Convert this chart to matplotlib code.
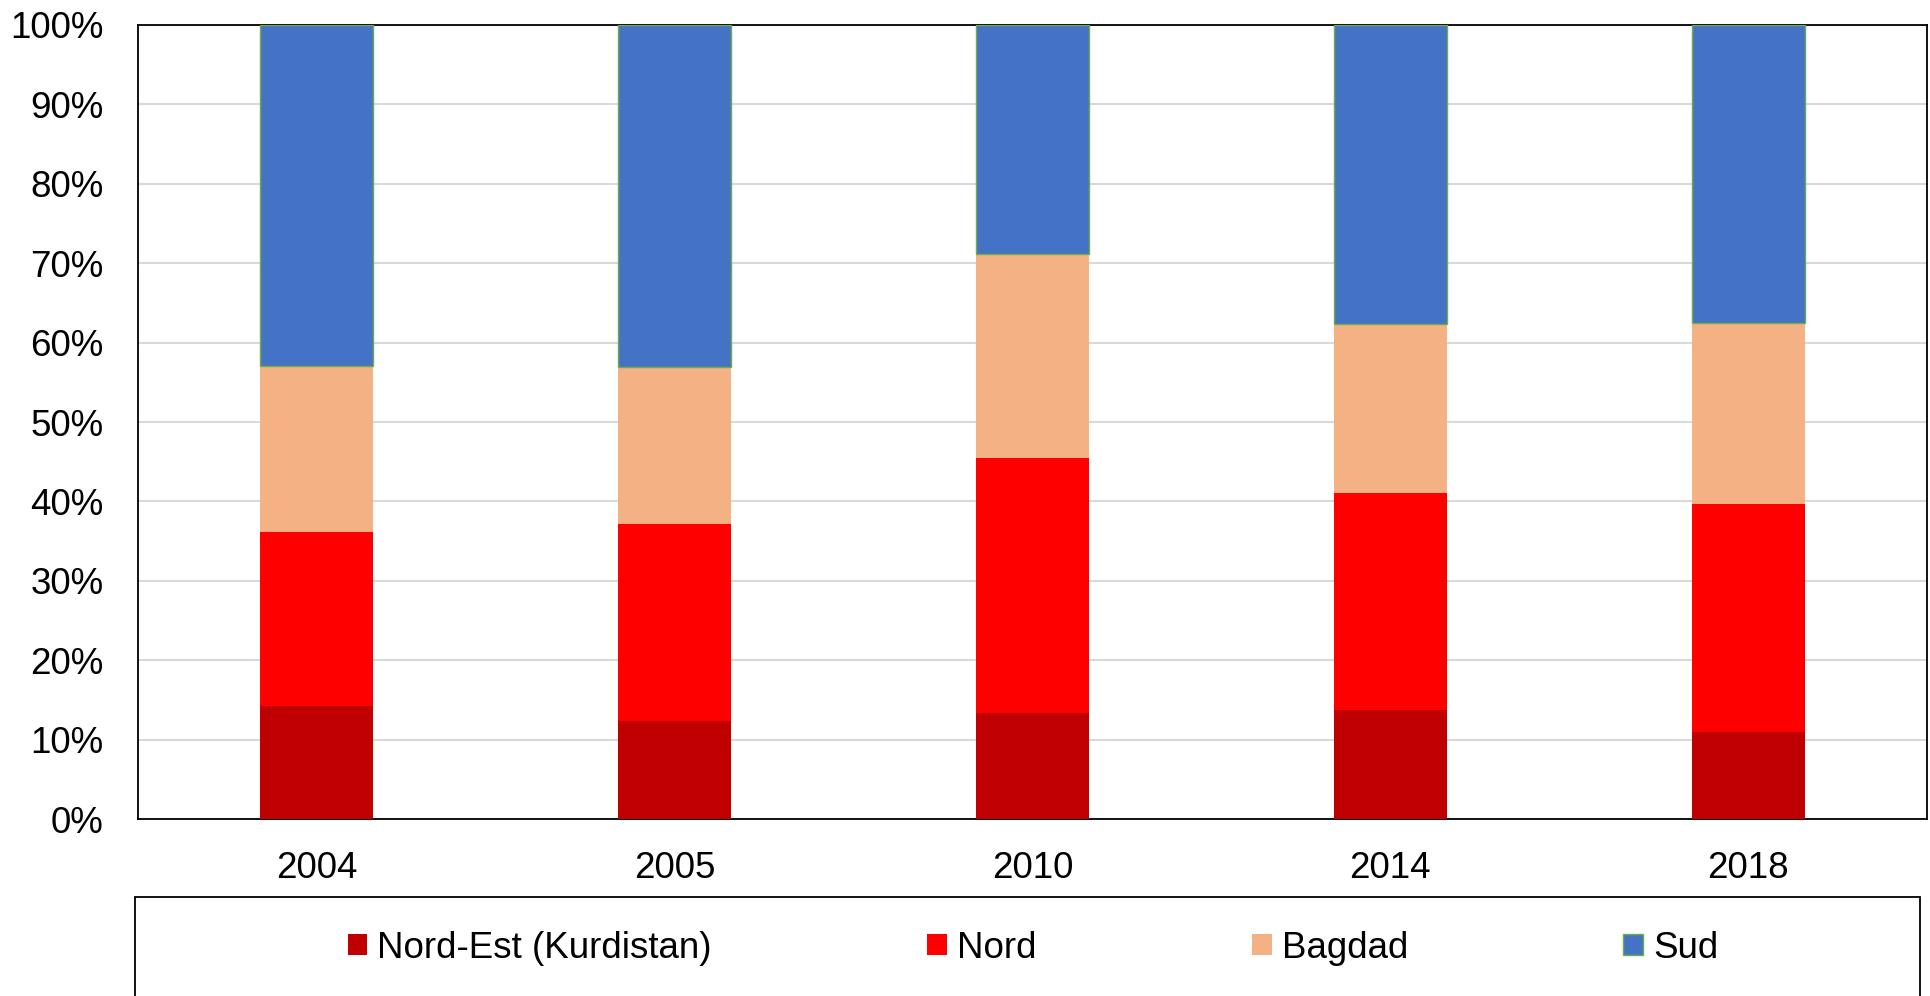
import matplotlib
matplotlib.use("Agg")
import matplotlib.pyplot as plt
from matplotlib.patches import Rectangle
from matplotlib.ticker import PercentFormatter
import numpy as np

plt.rcParams['font.family'] = ['Liberation Sans', 'DejaVu Sans']

years = ["2004", "2005", "2010", "2014", "2018"]
nord_est = [14.2, 12.4, 13.4, 13.7, 11.0]
nord = [22.0, 24.8, 32.1, 27.3, 28.7]
bagdad = [20.8, 19.7, 25.7, 21.3, 22.8]
sud = [43.0, 43.1, 28.8, 37.7, 37.5]
series_names = ["Nord-Est (Kurdistan)", "Nord", "Bagdad", "Sud"]
colors = ["#C00000", "#FF0000", "#F4B183", "#4472C4"]
edges = ["none", "none", "none", "#70AD47"]

W, H = 1930, 996
FS = 26.5
fig = plt.figure(figsize=(W / 100, H / 100), dpi=100)
ax = fig.add_axes([138 / W, 1 - 819 / H, (1927 - 138) / W, (819 - 25) / H])

x = np.arange(len(years))
bottom = np.zeros(len(years))
handles = []
for name, vals, c, e in zip(series_names, [nord_est, nord, bagdad, sud], colors, edges):
    b = ax.bar(x, vals, width=0.316, bottom=bottom, color=c, edgecolor=e,
               linewidth=1.0 if e != "none" else 0, label=name, zorder=3)
    handles.append(b)
    bottom += np.array(vals)

ax.set_xlim(-0.5, len(years) - 0.5)
ax.set_ylim(0, 100)
ax.set_yticks(np.arange(0, 101, 10))
ax.yaxis.set_major_formatter(PercentFormatter(decimals=0))
ax.set_xticks(x)
ax.set_xticklabels(years)
ax.tick_params(axis='both', length=0, labelsize=FS)
ax.tick_params(axis='y', pad=25)
ax.tick_params(axis='x', pad=23)
ax.grid(axis='y', color='#D9D9D9', linewidth=1.5, zorder=0)
for s in ax.spines.values():
    s.set_color('black')
    s.set_linewidth(1.3)

# legend box
rect = Rectangle((135 / W, -0.05), (1920 - 135) / W, 0.05 + (1 - 897 / H),
                 transform=fig.transFigure, fill=False, edgecolor='black',
                 linewidth=1.3)
fig.add_artist(rect)

fig.legend(handles=handles, labels=series_names, loc='center',
           bbox_to_anchor=(1033 / W, 1 - 948 / H), ncol=4, frameon=False,
           fontsize=FS, handlelength=0.54, handleheight=0.54,
           handletextpad=0.27, columnspacing=5.85)

fig.savefig("out.png", dpi=100)
